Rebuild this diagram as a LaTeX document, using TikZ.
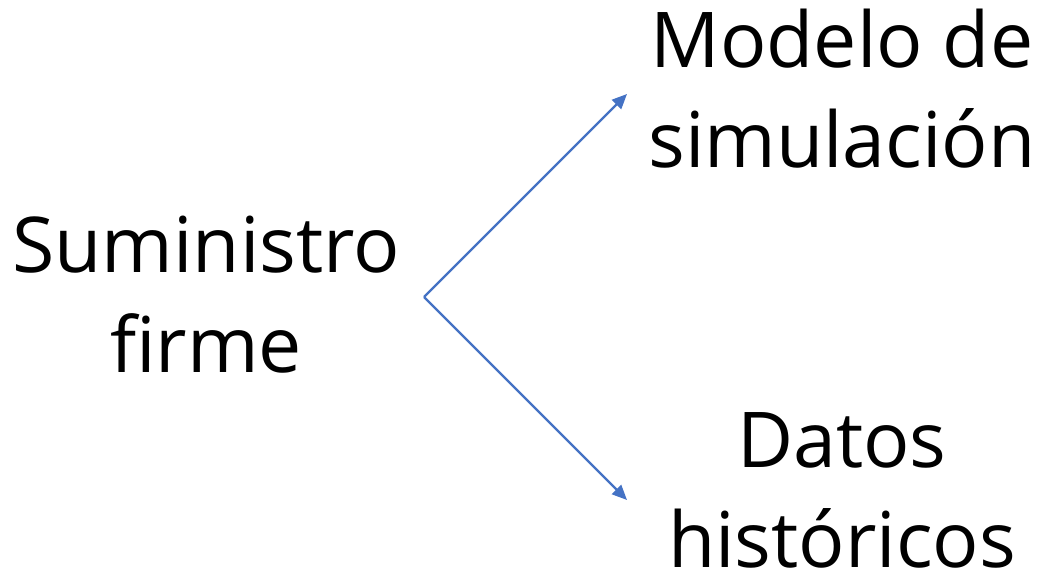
\documentclass[tikz,border=0pt]{standalone}
\usepackage{fontspec}
\setmainfont{Open Sans}
\usetikzlibrary{arrows.meta}
\definecolor{linkblue}{HTML}{4472C4}
\begin{document}
\begin{tikzpicture}[x=1pt,y=1pt,
  label/.style={align=center,anchor=base,inner sep=0pt,
    font=\fontsize{77}{100}\selectfont},
  link/.style={draw=linkblue,line width=2.2pt,
    -{Triangle[length=15pt,width=13pt]}}]
\useasboundingbox (0,0) rectangle (1040,584);
% labels (anchored at the baseline of their last line)
\node[label] (sum) at (206,212) {Suministro\\firme};
\node[label] (mod) at (842,416) {Modelo de\\simulación};
\node[label] (dat) at (842,17) {Datos\\históricos};
% branch point and arrow ends
\coordinate (fork) at (424,287);
\coordinate (up) at (627,490);
\coordinate (down) at (627,84);
\draw[link] (fork) -- (up);
\draw[link] (fork) -- (down);
\end{tikzpicture}
\end{document}
